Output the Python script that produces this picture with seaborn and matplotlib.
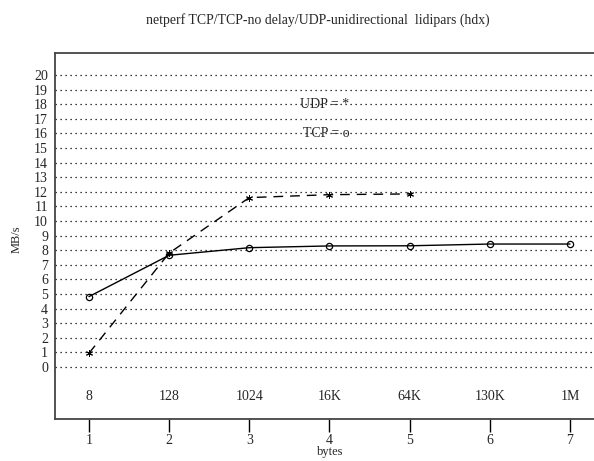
import matplotlib
matplotlib.use("Agg")
import matplotlib.pyplot as plt
import seaborn as sns
import pandas as pd

x_pos = [1, 2, 3, 4, 5, 6, 7]
size_labels = ["8", "128", "1024", "16K", "64K", "130K", "1M"]
tcp_values = [4.82, 7.65, 8.17, 8.29, 8.30, 8.42, 8.42]
udp_x = [1, 2, 3, 4, 5]
udp_values = [0.94, 7.8, 11.6, 11.8, 11.85]
y_ticks = list(range(0, 21))

sns.set_style("white")
plt.rcParams["font.family"] = ["Liberation Serif", "DejaVu Serif"]

fig = plt.figure(figsize=(5.94, 4.61), dpi=100)
ax = fig.add_axes([55 / 594, 1 - 419 / 461, 1 - 55 / 594 + 0.002, (419 - 53) / 461])

tcp_df = pd.DataFrame({"x": x_pos, "y": tcp_values})
udp_df = pd.DataFrame({"x": udp_x, "y": udp_values})

sns.lineplot(data=tcp_df, x="x", y="y", ax=ax, color="black", lw=1.0,
             marker="o", markersize=4.5, markerfacecolor="none",
             markeredgecolor="black", markeredgewidth=0.9)
sns.lineplot(data=udp_df, x="x", y="y", ax=ax, color="black", lw=1.0,
             dashes=False, linestyle=(0, (7, 5)),
             marker=(6, 2, 0), markersize=5, markeredgecolor="black",
             markeredgewidth=0.7)

ax.set_xlim(1 - 34 / 80.3, 1 + (596 - 89) / 80.3)
ax.set_ylim(-3.56, 21.5)
ax.set_yticks(y_ticks)
ax.set_yticklabels([str(v) for v in y_ticks], fontsize=10)
ax.set_xticks(x_pos)
ax.set_xticklabels([str(v) for v in x_pos], fontsize=10)
ax.tick_params(axis="y", length=0, pad=5)
ax.tick_params(axis="x", direction="out", length=9, width=1, color="black", pad=2, bottom=True)
ax.yaxis.grid(True, linestyle=(0, (1, 3)), color="black", lw=0.9)
ax.xaxis.grid(False)

for s in ["left", "top", "bottom"]:
    ax.spines[s].set_visible(True)
    ax.spines[s].set_color("#444444")
    ax.spines[s].set_linewidth(1.3)
ax.spines["right"].set_visible(False)

for xp, lab in zip(x_pos, size_labels):
    ax.text(xp, -2.0, lab, ha="center", va="center", fontsize=10)

ax.text(4.25, 18.0, "UDP = *", ha="right", va="center", fontsize=10)
ax.text(4.25, 16.0, "TCP = o", ha="right", va="center", fontsize=10)

ax.set_xlabel("")
ax.set_ylabel("")
fig.text(330 / 594, 1 - 452 / 461, "bytes", ha="center", va="center", fontsize=9)
fig.text(17 / 594, 1 - 239 / 461, "MB/s", ha="center", va="center", fontsize=9, rotation=90)
fig.text(318 / 594, 1 - 20 / 461, "netperf TCP/TCP-no delay/UDP-unidirectional  lidipars (hdx)",
         ha="center", va="center", fontsize=9.9)

fig.savefig("out.png", dpi=100)
